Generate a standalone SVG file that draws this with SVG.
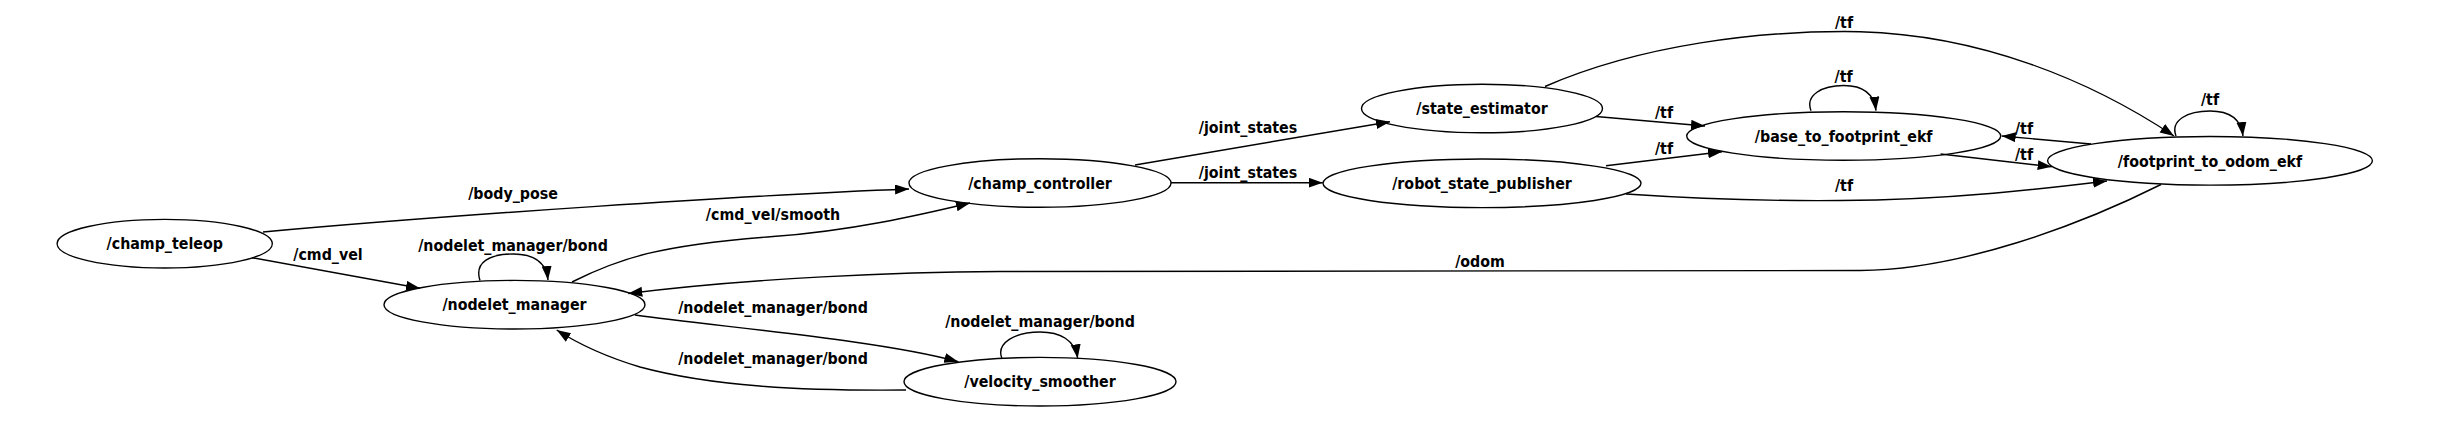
<svg xmlns="http://www.w3.org/2000/svg" width="2438" height="439" viewBox="0 0 2438 439">
<defs>
<marker id="arr" markerUnits="userSpaceOnUse" markerWidth="16" markerHeight="12" refX="14" refY="5" orient="auto">
<path d="M0,0 L14,5 L0,10 z" fill="#000"/>
</marker>
<style>
.n ellipse{fill:none;stroke:#000;stroke-width:1.4}
text{font-family:"DejaVu Sans Condensed","DejaVu Sans",sans-serif;font-stretch:condensed;font-weight:bold;font-size:15.8px;text-anchor:middle;fill:#000}
.e path{fill:none;stroke:#000;stroke-width:1.4;marker-end:url(#arr)}
</style>
</defs>
<rect width="2438" height="439" fill="#fff"/>
<g id="connectors" class="e">
<path d="M263,232 C450,215 750,195 909,189"/>
<text x="513" y="199">/body_pose</text>
<path d="M252,257.7 L420,288.3"/>
<text x="328" y="259.5">/cmd_vel</text>
<path d="M480,280.5 C474,262 490,254 513,254 C532,254 546,260 548,280"/>
<text x="513" y="250.5">/nodelet_manager/bond</text>
<path d="M572,282 C620,258 660,245 773,236.5 C850,231 920,215 970,203"/>
<text x="773" y="219.5">/cmd_vel/smooth</text>
<path d="M1135,165 L1390,121.7"/>
<text x="1248" y="132.5">/joint_states</text>
<path d="M1171,182.7 L1322.7,182.7"/>
<text x="1248" y="178">/joint_states</text>
<path d="M1596,116.5 L1705,126"/>
<text x="1664" y="118">/tf</text>
<path d="M1606,165.7 L1722,151.7"/>
<text x="1664" y="153.5">/tf</text>
<path d="M1626,194 C1700,199 1780,201 1840,200.5 C1950,200 2050,188 2107,181"/>
<text x="1844" y="190.5">/tf</text>
<path d="M1545,86.5 C1640,45 1760,30 1860,31.7 C1980,35 2090,80 2174,136"/>
<text x="1844" y="27.5">/tf</text>
<path d="M1811,110.7 C1805,95 1822,85.5 1843.7,85.5 C1862,85.5 1874,93 1876,110.7"/>
<text x="1843.7" y="81.5">/tf</text>
<path d="M2091,144 L2001.7,136"/>
<text x="2024" y="134">/tf</text>
<path d="M1940.6,154 L2051.7,166.7"/>
<text x="2024" y="160">/tf</text>
<path d="M2176,136 C2170,120 2188,111 2210,111 C2228,111 2241,118 2243,136"/>
<text x="2210" y="105">/tf</text>
<path d="M2161,184.5 C2080,225 1960,270 1860,270.5 L1000,271.5 C900,272 750,278 628.3,293.5"/>
<text x="1480" y="266.5">/odom</text>
<path d="M635,315 C720,327 880,340 958.3,361.7"/>
<text x="773" y="313">/nodelet_manager/bond</text>
<path d="M906,390 C800,391 710,386 640,367 C610,358 580,345 556.7,330"/>
<text x="773" y="364">/nodelet_manager/bond</text>
<path d="M1001.8,358.3 C996,343 1015,332 1040,332 C1060,332 1075,340 1077.7,358.3"/>
<text x="1040" y="327">/nodelet_manager/bond</text>
</g>
<g id="champ_teleop" class="n"><ellipse cx="164.7" cy="243.7" rx="107.6" ry="24.3"/><text x="164.7" y="249.4">/champ_teleop</text></g>
<g id="nodelet_manager" class="n"><ellipse cx="514.5" cy="304.7" rx="130.5" ry="24.3"/><text x="514.5" y="310.4">/nodelet_manager</text></g>
<g id="champ_controller" class="n"><ellipse cx="1040" cy="183" rx="131" ry="24.3"/><text x="1040" y="188.7">/champ_controller</text></g>
<g id="velocity_smoother" class="n"><ellipse cx="1040" cy="381.7" rx="136" ry="24.3"/><text x="1040" y="387.4">/velocity_smoother</text></g>
<g id="state_estimator" class="n"><ellipse cx="1482" cy="108.5" rx="120.5" ry="24.3"/><text x="1482" y="114.2">/state_estimator</text></g>
<g id="robot_state_publisher" class="n"><ellipse cx="1482" cy="183.3" rx="159" ry="24.3"/><text x="1482" y="189">/robot_state_publisher</text></g>
<g id="base_to_footprint_ekf" class="n"><ellipse cx="1843.7" cy="136" rx="157" ry="24.3"/><text x="1843.7" y="141.7">/base_to_footprint_ekf</text></g>
<g id="footprint_to_odom_ekf" class="n"><ellipse cx="2210" cy="160.8" rx="162.4" ry="24.3"/><text x="2210" y="166.5">/footprint_to_odom_ekf</text></g>
</svg>
